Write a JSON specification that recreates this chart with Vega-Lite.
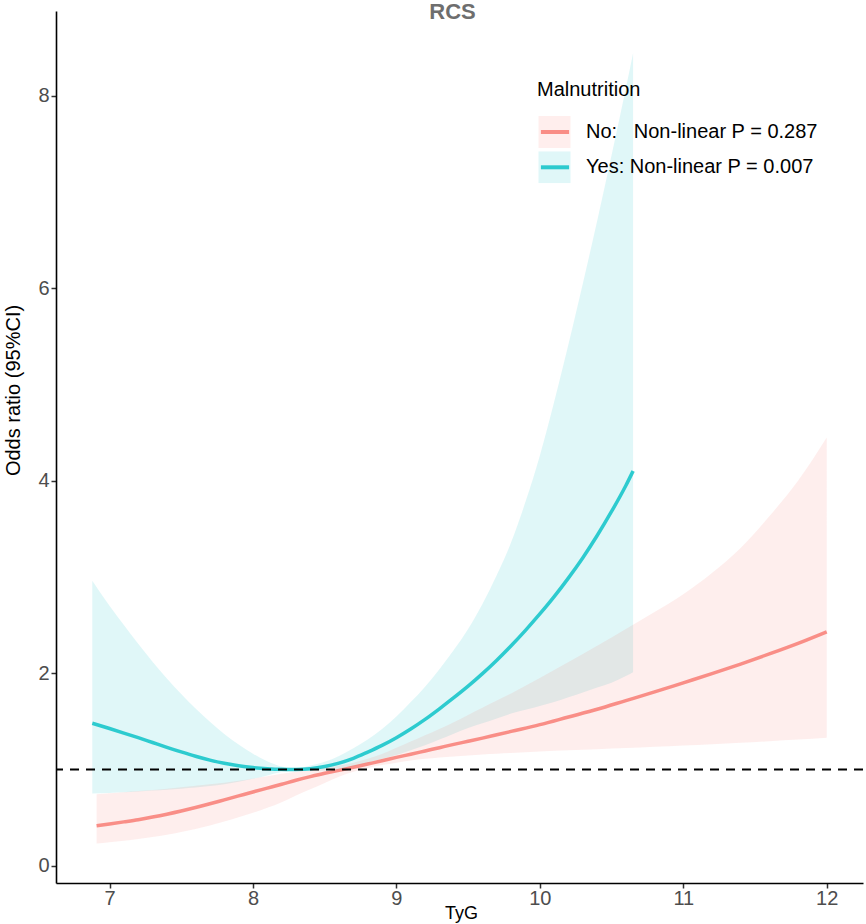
{
  "$schema": "https://vega.github.io/schema/vega-lite/v6.json",
  "description": "RCS curves of odds ratio against TyG by malnutrition status.",
  "width": 807,
  "height": 872,
  "autosize": "none",
  "padding": {"left": 56, "top": 11, "right": 3, "bottom": 41},
  "background": "white",
  "title": {
    "text": "RCS",
    "anchor": "middle",
    "font": "Liberation Sans",
    "fontSize": 22,
    "fontWeight": "bold",
    "color": "#6E6E6E",
    "offset": -13,
    "dx": -7
  },
  "data": {
    "values": [
      {"group": "Yes", "tyg": 6.88, "or": 1.48, "lower": 0.75, "upper": 2.96},
      {"group": "Yes", "tyg": 7.0, "or": 1.425, "lower": 0.755, "upper": 2.7},
      {"group": "Yes", "tyg": 7.1, "or": 1.378, "lower": 0.762, "upper": 2.5},
      {"group": "Yes", "tyg": 7.2, "or": 1.33, "lower": 0.77, "upper": 2.305},
      {"group": "Yes", "tyg": 7.3, "or": 1.28, "lower": 0.78, "upper": 2.12},
      {"group": "Yes", "tyg": 7.4, "or": 1.23, "lower": 0.79, "upper": 1.946},
      {"group": "Yes", "tyg": 7.5, "or": 1.182, "lower": 0.8, "upper": 1.784},
      {"group": "Yes", "tyg": 7.6, "or": 1.137, "lower": 0.812, "upper": 1.633},
      {"group": "Yes", "tyg": 7.7, "or": 1.097, "lower": 0.827, "upper": 1.495},
      {"group": "Yes", "tyg": 7.8, "or": 1.064, "lower": 0.847, "upper": 1.369},
      {"group": "Yes", "tyg": 7.9, "or": 1.038, "lower": 0.872, "upper": 1.259},
      {"group": "Yes", "tyg": 8.0, "or": 1.019, "lower": 0.902, "upper": 1.163},
      {"group": "Yes", "tyg": 8.1, "or": 1.007, "lower": 0.938, "upper": 1.085},
      {"group": "Yes", "tyg": 8.2, "or": 1.001, "lower": 0.972, "upper": 1.03},
      {"group": "Yes", "tyg": 8.3, "or": 1.0, "lower": 0.99, "upper": 1.012},
      {"group": "Yes", "tyg": 8.4, "or": 1.008, "lower": 0.985, "upper": 1.04},
      {"group": "Yes", "tyg": 8.5, "or": 1.03, "lower": 0.99, "upper": 1.08},
      {"group": "Yes", "tyg": 8.6, "or": 1.065, "lower": 1.0, "upper": 1.14},
      {"group": "Yes", "tyg": 8.7, "or": 1.115, "lower": 1.03, "upper": 1.22},
      {"group": "Yes", "tyg": 8.8, "or": 1.18, "lower": 1.07, "upper": 1.31},
      {"group": "Yes", "tyg": 8.9, "or": 1.25, "lower": 1.11, "upper": 1.42},
      {"group": "Yes", "tyg": 9.0, "or": 1.33, "lower": 1.15, "upper": 1.55},
      {"group": "Yes", "tyg": 9.1, "or": 1.42, "lower": 1.2, "upper": 1.7},
      {"group": "Yes", "tyg": 9.2, "or": 1.52, "lower": 1.25, "upper": 1.86},
      {"group": "Yes", "tyg": 9.3, "or": 1.63, "lower": 1.31, "upper": 2.04},
      {"group": "Yes", "tyg": 9.4, "or": 1.745, "lower": 1.37, "upper": 2.24},
      {"group": "Yes", "tyg": 9.5, "or": 1.865, "lower": 1.43, "upper": 2.46},
      {"group": "Yes", "tyg": 9.6, "or": 1.995, "lower": 1.48, "upper": 2.72},
      {"group": "Yes", "tyg": 9.7, "or": 2.135, "lower": 1.53, "upper": 3.02},
      {"group": "Yes", "tyg": 9.8, "or": 2.285, "lower": 1.58, "upper": 3.36},
      {"group": "Yes", "tyg": 9.9, "or": 2.445, "lower": 1.62, "upper": 3.78},
      {"group": "Yes", "tyg": 10.0, "or": 2.615, "lower": 1.66, "upper": 4.26},
      {"group": "Yes", "tyg": 10.1, "or": 2.795, "lower": 1.7, "upper": 4.82},
      {"group": "Yes", "tyg": 10.2, "or": 2.99, "lower": 1.75, "upper": 5.42},
      {"group": "Yes", "tyg": 10.3, "or": 3.2, "lower": 1.8, "upper": 6.05},
      {"group": "Yes", "tyg": 10.4, "or": 3.43, "lower": 1.85, "upper": 6.7},
      {"group": "Yes", "tyg": 10.5, "or": 3.68, "lower": 1.9, "upper": 7.38},
      {"group": "Yes", "tyg": 10.6, "or": 3.95, "lower": 1.97, "upper": 8.08},
      {"group": "Yes", "tyg": 10.65, "or": 4.1, "lower": 2.01, "upper": 8.44},
      {"group": "No", "tyg": 6.91, "or": 0.415, "lower": 0.23, "upper": 0.743},
      {"group": "No", "tyg": 7.0, "or": 0.433, "lower": 0.243, "upper": 0.752},
      {"group": "No", "tyg": 7.1, "or": 0.455, "lower": 0.259, "upper": 0.763},
      {"group": "No", "tyg": 7.2, "or": 0.478, "lower": 0.277, "upper": 0.775},
      {"group": "No", "tyg": 7.3, "or": 0.505, "lower": 0.298, "upper": 0.787},
      {"group": "No", "tyg": 7.4, "or": 0.535, "lower": 0.322, "upper": 0.8},
      {"group": "No", "tyg": 7.5, "or": 0.568, "lower": 0.35, "upper": 0.815},
      {"group": "No", "tyg": 7.6, "or": 0.604, "lower": 0.382, "upper": 0.83},
      {"group": "No", "tyg": 7.7, "or": 0.643, "lower": 0.418, "upper": 0.845},
      {"group": "No", "tyg": 7.8, "or": 0.684, "lower": 0.458, "upper": 0.862},
      {"group": "No", "tyg": 7.9, "or": 0.725, "lower": 0.502, "upper": 0.882},
      {"group": "No", "tyg": 8.0, "or": 0.766, "lower": 0.55, "upper": 0.905},
      {"group": "No", "tyg": 8.1, "or": 0.806, "lower": 0.602, "upper": 0.93},
      {"group": "No", "tyg": 8.2, "or": 0.846, "lower": 0.66, "upper": 0.955},
      {"group": "No", "tyg": 8.3, "or": 0.887, "lower": 0.73, "upper": 0.975},
      {"group": "No", "tyg": 8.4, "or": 0.925, "lower": 0.795, "upper": 0.995},
      {"group": "No", "tyg": 8.5, "or": 0.96, "lower": 0.86, "upper": 1.015},
      {"group": "No", "tyg": 8.6, "or": 0.99, "lower": 0.925, "upper": 1.04},
      {"group": "No", "tyg": 8.7, "or": 1.022, "lower": 0.975, "upper": 1.07},
      {"group": "No", "tyg": 8.8, "or": 1.056, "lower": 1.015, "upper": 1.11},
      {"group": "No", "tyg": 8.9, "or": 1.09, "lower": 1.045, "upper": 1.16},
      {"group": "No", "tyg": 9.0, "or": 1.125, "lower": 1.07, "upper": 1.225},
      {"group": "No", "tyg": 9.1, "or": 1.158, "lower": 1.092, "upper": 1.29},
      {"group": "No", "tyg": 9.2, "or": 1.192, "lower": 1.11, "upper": 1.355},
      {"group": "No", "tyg": 9.3, "or": 1.226, "lower": 1.124, "upper": 1.42},
      {"group": "No", "tyg": 9.4, "or": 1.26, "lower": 1.135, "upper": 1.49},
      {"group": "No", "tyg": 9.5, "or": 1.292, "lower": 1.146, "upper": 1.565},
      {"group": "No", "tyg": 9.6, "or": 1.325, "lower": 1.155, "upper": 1.64},
      {"group": "No", "tyg": 9.7, "or": 1.36, "lower": 1.163, "upper": 1.715},
      {"group": "No", "tyg": 9.8, "or": 1.395, "lower": 1.17, "upper": 1.79},
      {"group": "No", "tyg": 10.0, "or": 1.465, "lower": 1.185, "upper": 1.95},
      {"group": "No", "tyg": 10.2, "or": 1.545, "lower": 1.198, "upper": 2.115},
      {"group": "No", "tyg": 10.4, "or": 1.625, "lower": 1.21, "upper": 2.285},
      {"group": "No", "tyg": 10.6, "or": 1.715, "lower": 1.222, "upper": 2.46},
      {"group": "No", "tyg": 10.8, "or": 1.805, "lower": 1.235, "upper": 2.635},
      {"group": "No", "tyg": 11.0, "or": 1.9, "lower": 1.248, "upper": 2.82},
      {"group": "No", "tyg": 11.2, "or": 1.995, "lower": 1.262, "upper": 3.04},
      {"group": "No", "tyg": 11.4, "or": 2.095, "lower": 1.277, "upper": 3.3},
      {"group": "No", "tyg": 11.6, "or": 2.2, "lower": 1.293, "upper": 3.63},
      {"group": "No", "tyg": 11.8, "or": 2.31, "lower": 1.31, "upper": 4.0},
      {"group": "No", "tyg": 12.0, "or": 2.43, "lower": 1.33, "upper": 4.45}
    ]
  },
  "encoding": {
    "x": {
      "field": "tyg",
      "type": "quantitative",
      "scale": {"domain": [6.627, 12.253], "nice": false, "zero": false},
      "axis": {
        "title": "TyG",
        "values": [7, 8, 9, 10, 11, 12],
        "titleX": 405,
        "titleY": 35,
        "titleBaseline": "alphabetic",
        "labelPadding": 0
      }
    }
  },
  "layer": [
    {
      "mark": {"type": "area", "fillOpacity": 0.12, "interpolate": "monotone"},
      "encoding": {
        "y": {
          "field": "lower",
          "type": "quantitative",
          "scale": {"domain": [-0.18, 8.88], "nice": false, "zero": false},
          "axis": {
            "title": "Odds ratio (95%CI)",
            "values": [0, 2, 4, 6, 8],
            "format": "d",
            "titleFontSize": 20,
            "titleAngle": 270,
            "titleX": -43,
            "titleY": 379,
            "titleAlign": "center",
            "titleBaseline": "middle",
            "labelPadding": 2
          }
        },
        "y2": {"field": "upper"},
        "fill": {
          "field": "group",
          "type": "nominal",
          "scale": {"range": ["#F8766D", "#00BFC4"]},
          "legend": {
            "orient": "none",
            "legendX": 481,
            "legendY": 69,
            "title": "Malnutrition",
            "symbolType": "square",
            "symbolSize": 1024,
            "symbolOpacity": 0.12,
            "symbolStrokeWidth": 3,
            "symbolStrokeColor": "transparent",
            "clipHeight": 32,
            "labelExpr": "datum.label == 'No' ? 'No:\u00a0\u00a0\u00a0Non-linear P = 0.287' : 'Yes: Non-linear P = 0.007'"
          }
        }
      }
    },
    {
      "mark": {"type": "line", "strokeWidth": 3.5, "opacity": 0.8, "interpolate": "monotone"},
      "encoding": {
        "y": {"field": "or", "type": "quantitative"},
        "stroke": {
          "field": "group",
          "type": "nominal",
          "scale": {"domain": ["No", "Yes"], "range": ["#F8766D", "#00BFC4"]},
          "legend": {
            "orient": "none",
            "legendX": 481,
            "legendY": 69,
            "title": "Malnutrition",
            "titleOpacity": 0,
            "labelOpacity": 0,
            "symbolType": "M-0.88,0H0.88",
            "symbolSize": 1024,
            "symbolStrokeWidth": 4,
            "symbolOpacity": 0.8,
            "clipHeight": 32,
            "labelExpr": "datum.label == 'No' ? 'No:\u00a0\u00a0\u00a0Non-linear P = 0.287' : 'Yes: Non-linear P = 0.007'"
          }
        }
      }
    },
    {
      "data": {"values": [{"reference": 1}]},
      "mark": {"type": "rule", "color": "black", "strokeWidth": 2, "strokeDash": [9, 7]},
      "encoding": {
        "y": {"field": "reference", "type": "quantitative"},
        "x": null
      }
    }
  ],
  "config": {
    "view": {"stroke": null},
    "font": "Liberation Sans",
    "axis": {
      "grid": false,
      "domainColor": "black",
      "domainWidth": 1.6,
      "tickColor": "#333333",
      "tickWidth": 1.5,
      "tickSize": 5,
      "labelColor": "#4D4D4D",
      "labelFont": "Liberation Sans",
      "labelFontSize": 20,
      "titleFont": "Liberation Sans",
      "titleFontSize": 18,
      "titleFontWeight": "normal",
      "titleColor": "black"
    },
    "legend": {
      "padding": 0,
      "titleFont": "Liberation Sans",
      "titleFontSize": 20,
      "titleFontWeight": "normal",
      "titleColor": "black",
      "titlePadding": 16,
      "labelFont": "Liberation Sans",
      "labelFontSize": 20,
      "labelColor": "black",
      "labelOffset": 14,
      "rowPadding": 3.3,
      "labelLimit": 400
    }
  }
}
